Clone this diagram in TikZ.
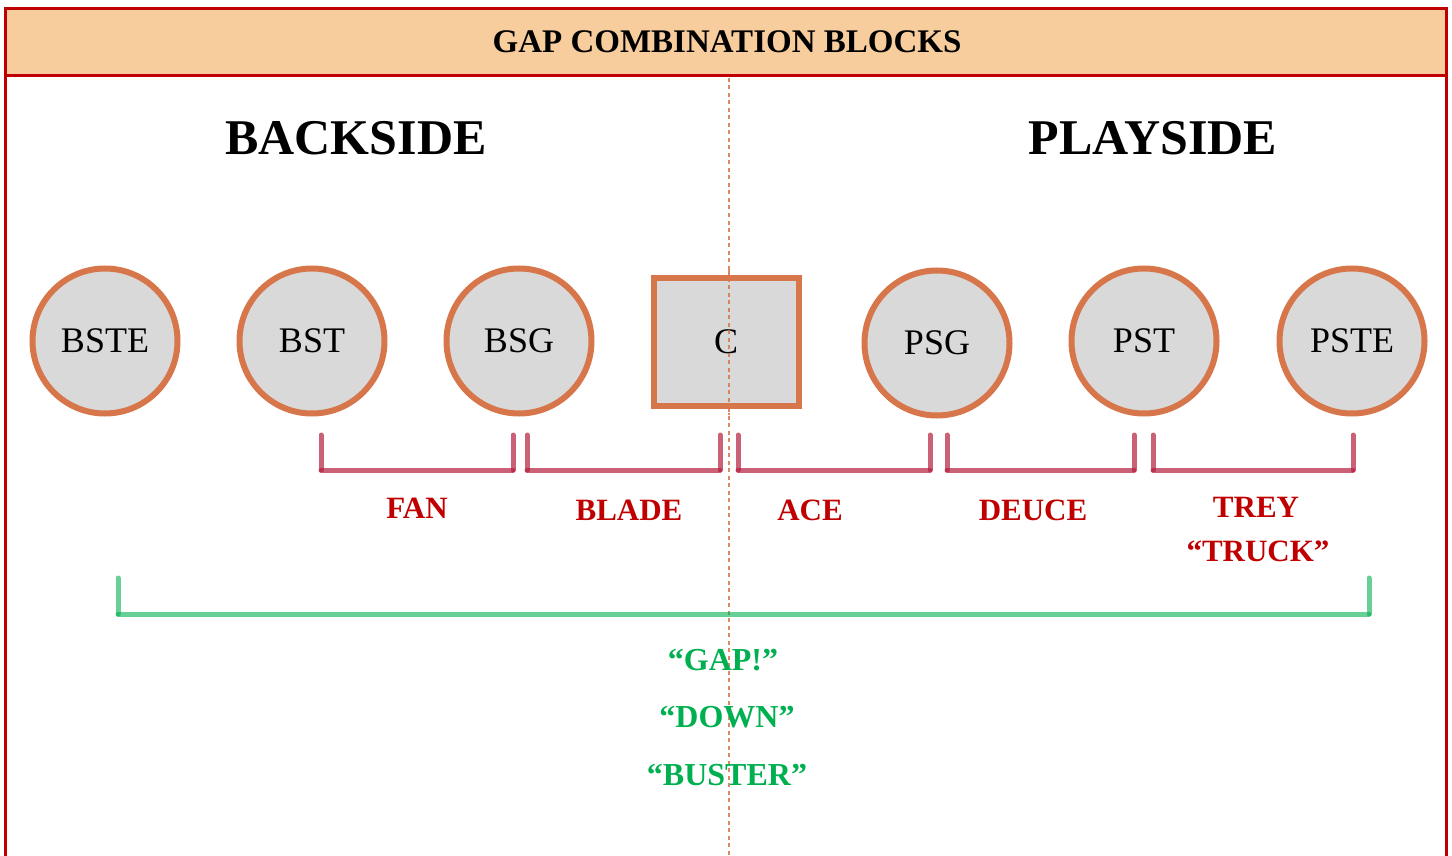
\documentclass[tikz,border=0pt]{standalone}
\usepackage{fontspec}
\setmainfont{Liberation Serif}
\definecolor{frame}{RGB}{192,0,0}
\definecolor{peach}{RGB}{247,205,158}
\definecolor{ring}{RGB}{214,118,74}
\definecolor{disc}{RGB}{217,217,217}
\definecolor{brk}{RGB}{180,30,60}
\definecolor{lbl}{RGB}{192,0,0}
\definecolor{grn}{RGB}{0,176,80}
\tikzset{
  player/.style={circle, draw=ring, fill=disc, line width=6pt, minimum size=145pt, inner sep=0pt, font=\fontsize{36}{40}\selectfont},
  center/.style={rectangle, draw=ring, fill=disc, line width=6pt, minimum width=145pt, minimum height=128pt, inner sep=0pt, font=\fontsize{36}{40}\selectfont},
  brack/.style={draw=brk, opacity=0.7, line width=5pt, line cap=round, line join=round},
  gbrack/.style={draw=grn, opacity=0.6, line width=5pt, line cap=round, line join=round},
  redlbl/.style={text=lbl, font=\bfseries\fontsize{31}{36}\selectfont, align=center},
  grnlbl/.style={text=grn, font=\bfseries\fontsize{32}{36}\selectfont},
  side/.style={font=\bfseries\fontsize{50}{56}\selectfont},
  midline/.style={ring, opacity=0.85, line width=2.5pt, dash pattern=on 4pt off 3.5pt},
}
\begin{document}
\begin{tikzpicture}[x=1pt,y=-1pt]
\useasboundingbox (0,0) rectangle (1452,856);
\begin{scope}
\clip (0,0) rectangle (1452,856);
% frame and header
\fill[peach] (5,9) rectangle (1446,76);
\draw[frame, line width=3pt] (5,880) -- (5,9) -- (1446,9) -- (1446,880);
\draw[frame, line width=3pt] (5,76) -- (1446,76);
\node[font=\bfseries\fontsize{33}{36}\selectfont] (title) at (727,42) {GAP COMBINATION BLOCKS};
% centre line
\draw[midline] (729,78) -- (729,860);
\end{scope}
% side titles
\node[side] (back) at (356,138) {BACKSIDE};
\node[side] (play) at (1153,138) {PLAYSIDE};
% players
\node[player] (bste) at (105,341) {BSTE};
\node[player] (bst) at (312,341) {BST};
\node[player] (bsg) at (519,341) {BSG};
\node[center] (c) at (726,342) {C};
\draw[midline] (729,270) -- (729,415);
\node[player] (psg) at (937,343) {PSG};
\node[player] (pst) at (1144,341) {PST};
\node[player] (pste) at (1352,341) {PSTE};
% red brackets
\foreach \a/\b in {321/513, 527/720, 738/930, 947/1134, 1153/1353}{
  \draw[brack] (\a,435) -- (\a,470);
  \draw[brack] (\a,470) -- (\b,470);
  \draw[brack] (\b,470) -- (\b,435);
}
\node[redlbl] (fan) at (417,508) {FAN};
\node[redlbl] (blade) at (629,510) {BLADE};
\node[redlbl] (ace) at (810,510) {ACE};
\node[redlbl] (deuce) at (1033,510) {DEUCE};
\node[redlbl] (trey) at (1256,507) {TREY};
\node[redlbl] (truck) at (1258,551) {“TRUCK”};
% green bracket
\draw[gbrack] (118,578) -- (118,614);
\draw[gbrack] (118,614) -- (1369,614);
\draw[gbrack] (1369,614) -- (1369,578);
\node[grnlbl] (gap) at (723,660) {“GAP!”};
\node[grnlbl] (down) at (727,717) {“DOWN”};
\node[grnlbl] (buster) at (727,775) {“BUSTER”};
\end{tikzpicture}
\end{document}
